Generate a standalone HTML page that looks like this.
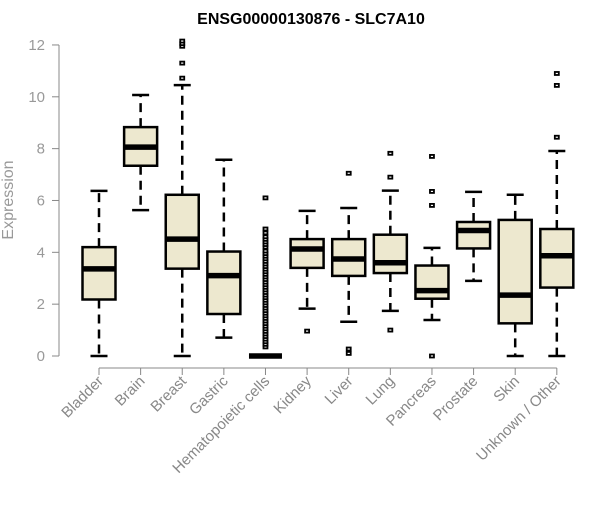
<!DOCTYPE html>
<html><head><meta charset="utf-8"><style>
html,body{margin:0;padding:0;background:#fff;}
svg text{font-family:"Liberation Sans",Arial,sans-serif;}
</style></head><body>
<svg id="chart" width="600" height="500" xmlns="http://www.w3.org/2000/svg">
<text x="311" y="24" text-anchor="middle" font-size="16" font-weight="bold" fill="#000">ENSG00000130876 - SLC7A10</text>
<text transform="translate(13,200) rotate(-90)" text-anchor="middle" font-size="16" fill="#999">Expression</text>
<g id="axes"></g>
<g id="marks"></g>
</svg>
<script>
const categories=["Bladder","Brain","Breast","Gastric","Hematopoietic cells","Kidney","Liver","Lung","Pancreas","Prostate","Skin","Unknown / Other"];
const whiskerLow=[0,5.63,0,0.71,0,1.83,1.32,1.74,1.39,2.9,0,0];
const q1=[2.18,7.34,3.37,1.62,0,3.4,3.09,3.2,2.21,4.15,1.26,2.64];
const medians=[3.36,8.06,4.51,3.1,0,4.13,3.74,3.6,2.52,4.84,2.35,3.87];
const q3=[4.2,8.83,6.22,4.03,0,4.51,4.51,4.68,3.49,5.17,5.25,4.9];
const whiskerHigh=[6.37,10.07,10.45,7.57,0,5.6,5.71,6.38,4.17,6.33,6.22,7.91];
const outliers=[[],[],[10.72,11.3,11.95,12.05,12.15],[],
[0.35,0.45,0.55,0.65,0.75,0.85,0.95,1.05,1.15,1.25,1.35,1.45,1.55,1.65,1.75,1.85,1.95,2.05,2.15,2.25,2.35,2.45,2.55,2.65,2.75,2.85,2.95,3.05,3.15,3.25,3.35,3.45,3.55,3.65,3.75,3.85,3.95,4.05,4.2,4.3,4.4,4.5,4.6,4.75,4.9,6.1],
[0.96],[7.05,0.27,0.1],[7.82,6.9,1.0],[7.7,6.35,5.81,0],[],[],[10.9,10.44,8.44]];
const yTicks=[0,2,4,6,8,10,12];

const NS="http://www.w3.org/2000/svg";
const y=v=>356-v*25.92;
const x=i=>99+i*41.62;
const axes=document.getElementById('axes'),marks=document.getElementById('marks');
function mk(tag,attrs,parent){const e=document.createElementNS(NS,tag);for(const k in attrs)e.setAttribute(k,attrs[k]);parent.appendChild(e);return e;}
let el=mk('line',{x1:59,x2:59,y1:y(12),y2:y(0),stroke:'#888','stroke-width':1},axes);


yTicks.forEach(t=>{
 let tk=mk('line',{x1:52,x2:59,y1:y(t),y2:y(t),stroke:'#888'},axes);
 
 
 let lb=mk('text',{x:45,y:y(t)+5,'text-anchor':'end','font-size':15,fill:'#999'},axes);
 lb.textContent=t;
 
 
});
el=mk('line',{x1:x(0),x2:x(11),y1:368,y2:368,stroke:'#888'},axes);


categories.forEach((c,i)=>{
 const cx=x(i);
 let tk=mk('line',{x1:cx,x2:cx,y1:368,y2:375,stroke:'#888'},axes);
 
 
 let lb=mk('text',{transform:`translate(${cx+5},${382}) rotate(-45)`,'text-anchor':'end','font-size':15,fill:'#888'},axes);
 lb.textContent=c;
 
 
 const g=mk('g',{},marks);
 
 
 const hw=16.5,cw=8.5;
 if(whiskerHigh[i]>q3[i]){
  mk('line',{x1:cx,x2:cx,y1:y(q3[i]),y2:y(whiskerHigh[i]),stroke:'#000','stroke-width':2.5,'stroke-dasharray':'9,6'},g);
  mk('line',{x1:cx-cw,x2:cx+cw,y1:y(whiskerHigh[i]),y2:y(whiskerHigh[i]),stroke:'#000','stroke-width':2.5},g);
 }
 if(whiskerLow[i]<q1[i]){
  mk('line',{x1:cx,x2:cx,y1:y(q1[i]),y2:y(whiskerLow[i]),stroke:'#000','stroke-width':2.5,'stroke-dasharray':'9,6'},g);
  mk('line',{x1:cx-cw,x2:cx+cw,y1:y(whiskerLow[i]),y2:y(whiskerLow[i]),stroke:'#000','stroke-width':2.5},g);
 }
 if(q3[i]>q1[i]){
  mk('rect',{x:cx-hw,y:y(q3[i]),width:2*hw,height:y(q1[i])-y(q3[i]),fill:'#ede8cf',stroke:'#000','stroke-width':2.5},g);
 }
 mk('line',{x1:cx-hw,x2:cx+hw,y1:y(medians[i]),y2:y(medians[i]),stroke:'#000','stroke-width':5.5},g);
 outliers[i].forEach(v=>{
  let p=mk('rect',{x:cx-2,y:y(v)-1.5,width:4,height:3,fill:'#fff',stroke:'#000','stroke-width':1.8},g);
  
  
 });
});
</script>
</body></html>
